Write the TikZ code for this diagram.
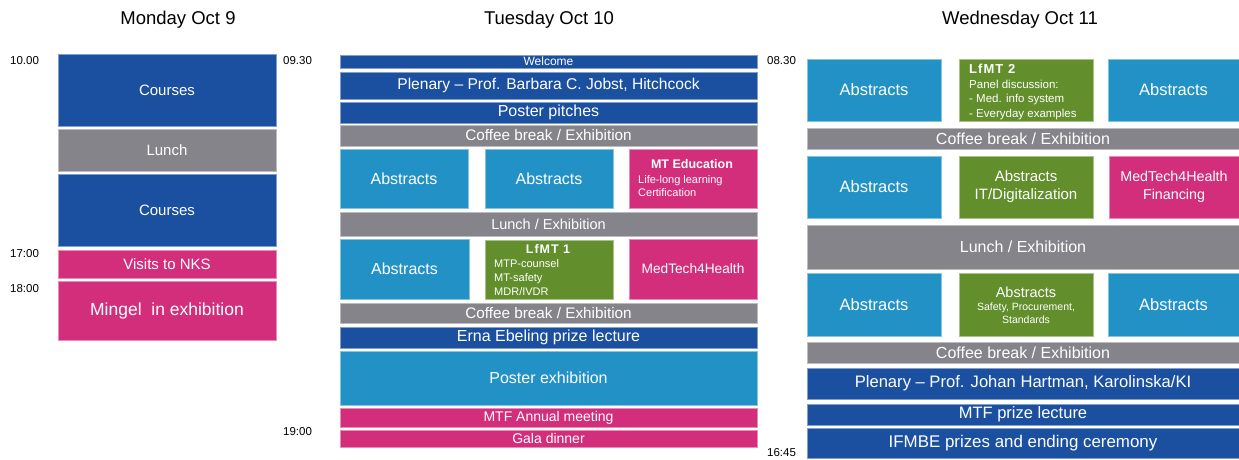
\documentclass[tikz,border=0pt]{standalone}
\usepackage{fontspec}
\setmainfont{Liberation Sans}
\definecolor{cblue}{RGB}{27,80,160}
\definecolor{cgray}{RGB}{133,132,138}
\definecolor{cpink}{RGB}{210,46,123}
\definecolor{clblue}{RGB}{34,146,198}
\definecolor{cgreen}{RGB}{98,143,44}
\newcommand\fs[1]{\fontsize{#1}{#1}\selectfont}
\begin{document}
\begin{tikzpicture}[x=1pt,y=-1pt,
  slot/.style={fill=#1, draw=#1!55!white, line width=0.8pt, inner sep=0pt, outer sep=0pt,
     anchor=north west, text=white, align=center},
  sz/.style={font=\fontsize{#1}{#1}\selectfont},
  title/.style={font=\fontsize{18.5}{22}\selectfont},
  time/.style={font=\fontsize{11.5}{13}\selectfont, anchor=west, inner sep=0pt},
  wt/.style={text=white, inner sep=0pt, anchor=base west},
  wtc/.style={text=white, inner sep=0pt, anchor=base}]
\useasboundingbox (0,0) rectangle (1239,459);
% titles
\node[title] (tmon) at (178,20) {Monday Oct 9};
\node[title] (ttue) at (549,20) {Tuesday Oct 10};
\node[title] (twed) at (1020,20) {Wednesday Oct 11};
% times
\node[time] (t1) at (10,61) {10.00};
\node[time] (t2) at (10,254) {17:00};
\node[time] (t3) at (10,289) {18:00};
\node[time] (t4) at (283,61) {09.30};
\node[time] (t5) at (283,432) {19:00};
\node[time] (t6) at (767,61) {08.30};
\node[time] (t7) at (767,453) {16:45};
% Monday
\node[slot=cblue, minimum width=218pt, minimum height=72pt, sz=15] (mc1) at (58,54) {Courses};
\node[slot=cgray, minimum width=218pt, minimum height=42pt, sz=15] (ml) at (58,129) {Lunch};
\node[slot=cblue, minimum width=218pt, minimum height=72pt, sz=15] (mc2) at (58,174) {Courses};
\node[slot=cpink, minimum width=218pt, minimum height=28pt, sz=15] (mv) at (58,250) {Visits to NKS};
\node[slot=cpink, minimum width=218pt, minimum height=59pt, sz=17.5] (mm) at (58,281) {Mingel\ \ in exhibition};
% Tuesday
\node[slot=cblue, minimum width=417pt, minimum height=13pt, sz=12] (tw) at (340,55) {Welcome};
\node[slot=cblue, minimum width=417pt, minimum height=27pt, sz=15.6] (tp) at (340,72) {Plenary -- Prof. Barbara C. Jobst, Hitchcock};
\node[slot=cblue, minimum width=417pt, minimum height=21pt, sz=16] (tpp) at (340,102) {Poster pitches};
\node[slot=cgray, minimum width=417pt, minimum height=21pt, sz=15.3] (tc1) at (340,125) {Coffee break / Exhibition};
\node[slot=clblue, minimum width=128pt, minimum height=59pt, sz=16] (ta1) at (340,149) {Abstracts};
\node[slot=clblue, minimum width=128pt, minimum height=59pt, sz=16] (ta2) at (485,149) {Abstracts};
\node[slot=cpink, minimum width=128pt, minimum height=59pt] (tmte) at (629,149) {};
\node[wtc, font=\bfseries\fs{12.5}] (tmte1) at (692,168) {MT Education};
\node[wt, font=\fs{11}] (tmte2) at (638,183) {Life-long learning};
\node[wt, font=\fs{11}] (tmte3) at (638,196) {Certification};
\node[slot=cgray, minimum width=417pt, minimum height=24pt, sz=14.5] (tl) at (340,212) {Lunch / Exhibition};
\node[slot=clblue, minimum width=129pt, minimum height=60pt, sz=16] (ta3) at (340,239) {Abstracts};
\node[slot=cgreen, minimum width=128pt, minimum height=59pt] (tlf) at (485,240) {};
\node[wtc, font=\bfseries\fs{12.5}\addfontfeature{LetterSpace=8}] (tlf1) at (548,253) {LfMT 1};
\node[wt, font=\fs{11}] (tlf2) at (494,267) {MTP-counsel};
\node[wt, font=\fs{11}] (tlf3) at (494,281) {MT-safety};
\node[wt, font=\fs{11}] (tlf4) at (494,295) {MDR/IVDR};
\node[slot=cpink, minimum width=128pt, minimum height=60pt, sz=13.7] (tmh) at (629,239) {MedTech4Health};
\node[slot=cgray, minimum width=417pt, minimum height=20pt, sz=15.3] (tc2) at (340,303) {Coffee break / Exhibition};
\node[slot=cblue, minimum width=417pt, minimum height=21pt, sz=16] (te) at (340,327) {Erna Ebeling prize lecture};
\node[slot=clblue, minimum width=417pt, minimum height=54pt, sz=16] (tpe) at (340,351) {Poster exhibition};
\node[slot=cpink, minimum width=417pt, minimum height=19pt, sz=14] (tam) at (340,408) {MTF Annual meeting};
\node[slot=cpink, minimum width=417pt, minimum height=17pt, sz=14] (tg) at (340,430) {Gala dinner};
% Wednesday
\node[slot=clblue, minimum width=134pt, minimum height=62pt, sz=16.5] (wa1) at (807,59) {Abstracts};
\node[slot=cgreen, minimum width=134pt, minimum height=62pt] (wlf) at (959,59) {};
\node[wt, font=\bfseries\fs{13}\addfontfeature{LetterSpace=8}] (wlf1) at (969,73) {LfMT 2};
\node[wt, font=\fs{11.5}] (wlf2) at (969,88) {Panel discussion:};
\node[wt, font=\fs{11.5}] (wlf3) at (969,102) {- Med. info system};
\node[wt, font=\fs{11.5}] (wlf4) at (969,117) {- Everyday examples};
\node[slot=clblue, minimum width=131pt, minimum height=62pt, sz=16.5] (wa2) at (1108,59) {Abstracts};
\node[slot=cgray, minimum width=432pt, minimum height=21pt, sz=16] (wc1) at (807,128) {Coffee break / Exhibition};
\node[slot=clblue, minimum width=134pt, minimum height=62pt, sz=16.5] (wa3) at (807,156) {Abstracts};
\node[slot=cgreen, minimum width=134pt, minimum height=62pt, font=\fontsize{15}{18}\selectfont] (wit) at (959,156) {Abstracts\\IT/Digitalization};
\node[slot=cpink, minimum width=130pt, minimum height=62pt, font=\fontsize{14.3}{18}\selectfont] (wmh) at (1109,156) {MedTech4Health\\Financing};
\node[slot=cgray, minimum width=432pt, minimum height=44pt, sz=16] (wl) at (807,225) {Lunch / Exhibition};
\node[slot=clblue, minimum width=134pt, minimum height=63pt, sz=16.5] (wa4) at (807,273) {Abstracts};
\node[slot=cgreen, minimum width=134pt, minimum height=63pt] (wsp) at (959,273) {};
\node[wtc, font=\fs{14.5}] (wsp1) at (1026,297) {Abstracts};
\node[wtc, font=\fs{10.5}] (wsp2) at (1026,310) {Safety, Procurement,};
\node[wtc, font=\fs{10.5}] (wsp3) at (1026,323) {Standards};
\node[slot=clblue, minimum width=131pt, minimum height=63pt, sz=16.5] (wa5) at (1108,273) {Abstracts};
\node[slot=cgray, minimum width=432pt, minimum height=21pt, sz=16] (wc2) at (807,342) {Coffee break / Exhibition};
\node[slot=cblue, minimum width=432pt, minimum height=31pt, sz=16.6] (wp) at (807,368) {Plenary -- Prof. Johan Hartman, Karolinska/KI};
\node[slot=cblue, minimum width=432pt, minimum height=21pt, sz=16.5] (wm) at (807,404) {MTF prize lecture};
\node[slot=cblue, minimum width=432pt, minimum height=30pt, sz=16.9] (wi) at (807,428) {IFMBE prizes and ending ceremony};
\end{tikzpicture}
\end{document}
